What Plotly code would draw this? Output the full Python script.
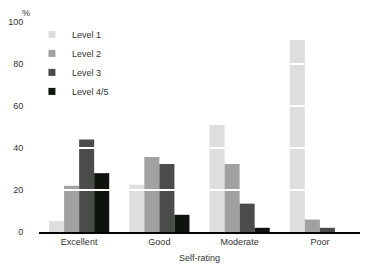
import plotly.graph_objects as go

# data
categories = ["Excellent", "Good", "Moderate", "Poor"]
level1 = [5.2, 22.5, 51, 91.4]
level2 = [22, 35.7, 32.4, 5.9]
level3 = [44, 32.4, 13.5, 2]
level45 = [28, 8.2, 2, 0]
names = ["Level 1", "Level 2", "Level 3", "Level 4/5"]
colours = ["#dedede", "#a1a1a1", "#4b4b4b", "#0e130e"]

fig = go.Figure()
for name, vals, col in zip(names, [level1, level2, level3, level45], colours):
    fig.add_trace(go.Bar(x=categories, y=vals, name=name, marker_color=col,
                         marker_line_width=0, showlegend=False))
    # small square legend keys
    fig.add_trace(go.Scatter(x=[None], y=[None], mode="markers", name=name,
                             marker=dict(symbol="square", size=7, color=col)))

# white gridlines that cut through the bars
for g in [20, 40, 60, 80]:
    fig.add_shape(type="line", xref="paper", x0=0, x1=1, yref="y", y0=g, y1=g,
                  line=dict(color="white", width=2), layer="above")

fig.add_annotation(text="%", xref="paper", yref="paper", x=-0.04, y=1.043,
                   showarrow=False, font=dict(size=9, color="#333"),
                   xanchor="center", yanchor="middle")

# page has an 8px body margin, so the figure is a bit smaller than the window
fig.update_layout(
    width=362, height=258,
    margin=dict(l=31, r=10, t=14, b=34),
    plot_bgcolor="white", paper_bgcolor="white",
    font=dict(family="Liberation Sans, Arial", size=9, color="#333"),
    barmode="group", bargap=0.25, bargroupgap=0,
    xaxis=dict(showline=True, linecolor="black", linewidth=2, showgrid=False,
               ticks="", automargin=False,
               title=dict(text="Self-rating", standoff=9, font=dict(size=9))),
    yaxis=dict(range=[0, 100], dtick=20, showgrid=False, zeroline=False,
               ticks="outside", ticklen=13, tickcolor="rgba(0,0,0,0)",
               automargin=False),
    legend=dict(x=-0.022, y=1.01, xanchor="left", yanchor="top",
                tracegroupgap=0, font=dict(size=9), bgcolor="rgba(0,0,0,0)"),
)

fig.write_html("out.html")
